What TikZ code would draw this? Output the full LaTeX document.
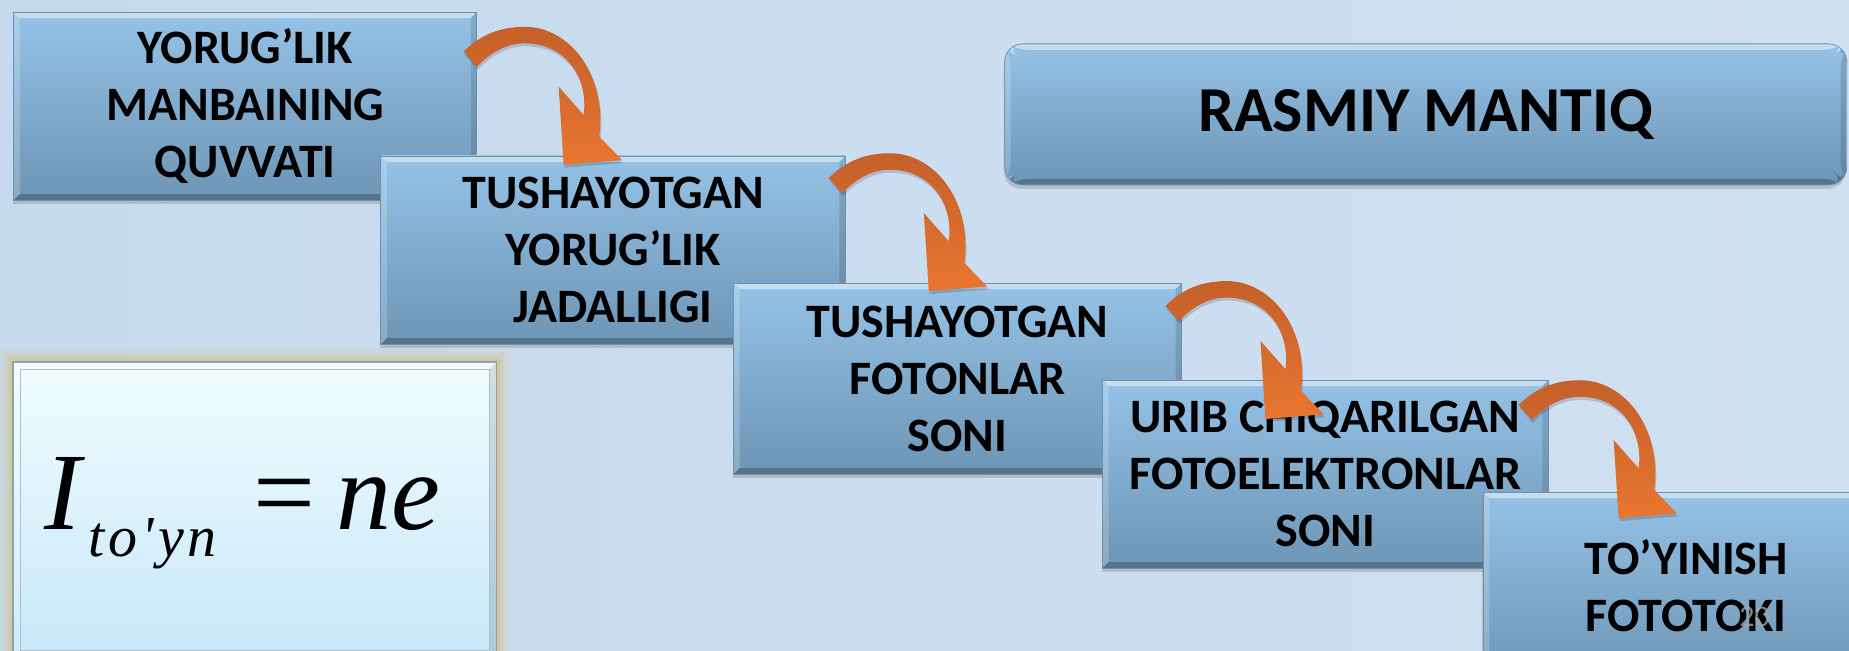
\documentclass[tikz,border=0pt]{standalone}
\usepackage{fontspec}
\newfontfamily\carl{Carlito}
\newfontfamily\tnr{Liberation Serif}[Ligatures=TeXOff]
\usetikzlibrary{shadows,calc}
\definecolor{boxtop}{HTML}{95C2E6}
\definecolor{boxbot}{HTML}{6D95B5}
\definecolor{boxline}{HTML}{6F8FAB}
\definecolor{arrtop}{HTML}{C4602A}
\definecolor{arrbot}{HTML}{E97630}
\definecolor{bgA}{HTML}{DCE8F4}
\definecolor{bgB}{HTML}{C2D8EE}
\definecolor{bgC}{HTML}{D3E2F1}
\definecolor{glowcol}{HTML}{D6C488}
\definecolor{frametop}{HTML}{F2FDFF}
\definecolor{framebot}{HTML}{C6E7F9}
\definecolor{frameline}{HTML}{8BA4B5}
\pgfdeclarehorizontalshading{bgshade}{100bp}{color(0bp)=(bgA); color(12bp)=(bgB); color(45bp)=(bgB!50!bgC); color(100bp)=(bgC)}
\tikzset{
  bevel/.style={path picture={
    \fill[white,opacity=0.45] (path picture bounding box.north west) -- (path picture bounding box.north east) -- ([xshift=-#1,yshift=-#1]path picture bounding box.north east) -- ([xshift=#1,yshift=-#1]path picture bounding box.north west) -- cycle;
    \fill[white,opacity=0.2] (path picture bounding box.north west) -- ([xshift=#1,yshift=-#1]path picture bounding box.north west) -- ([xshift=#1,yshift=#1]path picture bounding box.south west) -- (path picture bounding box.south west) -- cycle;
    \fill[black,opacity=0.22] (path picture bounding box.south west) -- (path picture bounding box.south east) -- ([xshift=-#1,yshift=#1]path picture bounding box.south east) -- ([xshift=#1,yshift=#1]path picture bounding box.south west) -- cycle;
    \fill[black,opacity=0.12] (path picture bounding box.north east) -- ([xshift=-#1,yshift=-#1]path picture bounding box.north east) -- ([xshift=-#1,yshift=#1]path picture bounding box.south east) -- (path picture bounding box.south east) -- cycle;
  }},
  bevel/.default=6pt,
  stepbox/.style={rectangle, top color=boxtop, bottom color=boxbot, draw=boxline, line width=0.8pt, bevel,
    drop shadow={shadow xshift=-1pt, shadow yshift=-4pt, opacity=0.35},
    align=center, font=\carl\bfseries\fontsize{48}{57}\selectfont, inner sep=0pt, minimum height=188pt},
  arrowpath/.style={insert path={
      (0,0) .. controls (15,-15) and (32,-21) .. (52,-21)
      .. controls (90,-21) and (122,20) .. (115,72)
      -- (134.3,92) -- (84.8,96) -- (80.6,29.7) -- (101.8,53.7)
      .. controls (106,20) and (85,-7) .. (52,-7)
      .. controls (35,-7) and (22,2) .. (11.3,12.8) -- cycle}},
  curvarrow/.pic={
    \fill[black, opacity=0.15, xshift=1pt, yshift=-3pt] [arrowpath];
    \shade[top color=arrtop, bottom color=arrbot] [arrowpath];
  },
}
\begin{document}
\begin{tikzpicture}[x=1.1792pt, y=-1.1792pt]
\useasboundingbox (0,0) rectangle (1568,552);
\clip (0,0) rectangle (1568,552);
\shade[shading=bgshade] (0,0) rectangle (1568,552);

% formula frame
\node[rectangle, minimum width=483.5pt, minimum height=296pt, inner sep=0pt] (fb) at (216,432.5) {};
\foreach \i/\o in {14pt/0.12, 10pt/0.2, 6pt/0.35, 3pt/0.55}
  \fill[glowcol, opacity=\o] ([xshift=-\i,yshift=\i]fb.north west) rectangle ([xshift=\i,yshift=-\i]fb.south east);
\node[rectangle, top color=frametop, bottom color=framebot, draw=frameline, line width=1.2pt, bevel=7pt,
      minimum width=483.5pt, minimum height=296pt, inner sep=0pt] (frame) at (fb) {};
\draw[frameline!70, line width=0.6pt] ([xshift=8pt,yshift=-8pt]frame.north west) rectangle ([xshift=-8pt,yshift=8pt]frame.south east);
\node[anchor=base west, inner sep=0pt, font=\tnr\fontsize{110}{110}\selectfont] (eq) at (37.3,449)
  {\itshape I\kern8pt\raisebox{-27pt}{\fontsize{58}{58}\selectfont t\kern4pt o\kern4pt'\kern4pt y\kern3pt n}\kern37pt\upshape=\kern21pt\itshape ne};

% step boxes
\node[stepbox, minimum width=463pt] (b1) at (208,90) {YORUG’LIK\\MANBAINING\\QUVVATI};
\node[stepbox, minimum width=464.6pt] (b2) at (520,212) {TUSHAYOTGAN\\YORUG’LIK\\JADALLIGI};
\node[stepbox, minimum width=448pt, minimum height=191pt] (b3) at (812,321) {TUSHAYOTGAN\\FOTONLAR\\SONI};
\node[stepbox, minimum width=445.7pt] (b4) at (1124,402) {URIB CHIQARILGAN\\FOTOELEKTRONLAR\\SONI};
\node[stepbox, minimum width=405.6pt] (b5) at (1430,497) {TO’YINISH\\FOTOTOKI};

% title box
\node[stepbox, rounded corners=18pt, minimum width=842pt, minimum height=141pt,
      font=\carl\bfseries\fontsize{64}{70}\selectfont] (rm) at (1209,97) {RASMIY MANTIQ};

% curved arrows
\coordinate (a1) at ($(b1.north east)+(-11.5,33.8)$);
\coordinate (a2) at ($(b2.north east)+(-14.5,19)$);
\coordinate (a3) at ($(b3.north east)+(-14,19.7)$);
\coordinate (a4) at ($(b4.north east)+(-25.5,21.5)$);
\pic at (a1) {curvarrow};
\pic at (a2) {curvarrow};
\pic at (a3) {curvarrow};
\pic at (a4) {curvarrow};

% slide number
\node[font=\carl\fontsize{30}{30}\selectfont, text=gray!70, opacity=0.8, inner sep=0pt] (pn) at (1488,523) {20};
\end{tikzpicture}
\end{document}
